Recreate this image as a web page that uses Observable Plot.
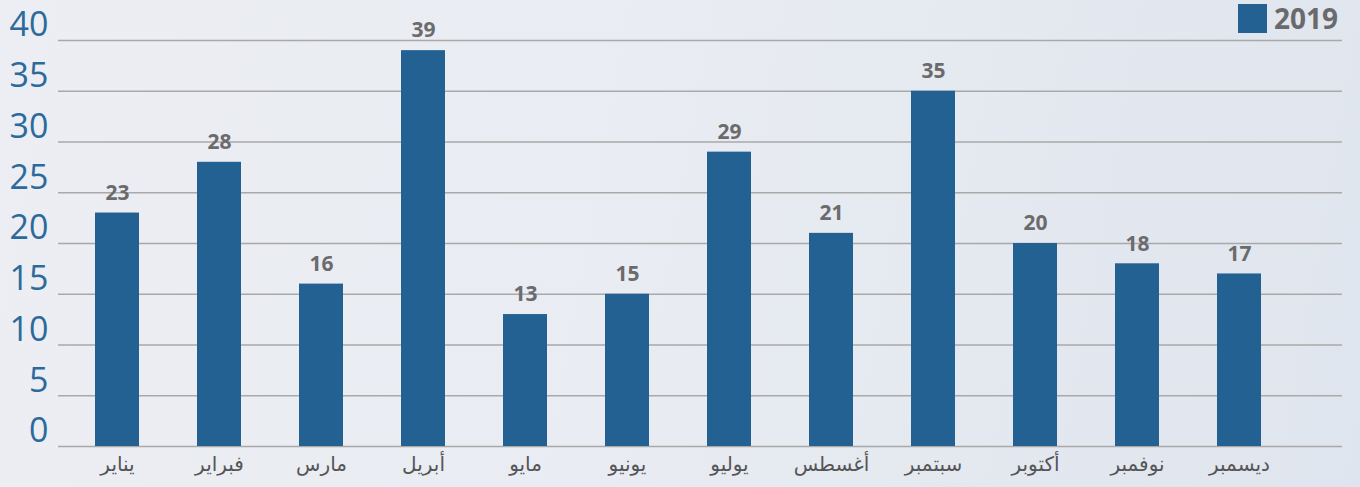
<!DOCTYPE html>
<html>
<head>
<meta charset="utf-8">
<script src="https://cdn.jsdelivr.net/npm/d3@7"></script>
<script src="https://cdn.jsdelivr.net/npm/@observablehq/plot@0.6"></script>
<style>
  html, body { margin: 0; padding: 0; }
  #wrap {
    position: relative; width: 1360px; height: 487px; overflow: hidden;
    background: linear-gradient(100deg, #eceef3 0%, #e9ecf2 45%, #dfe5ee 100%);
  }
  #legend {
    position: absolute; left: 1238px; top: 4px; display: flex; align-items: center;
    font-family: "Open Sans", "DejaVu Sans", sans-serif; font-weight: bold; font-size: 28px; color: #6a6a6c;
    line-height: 29px;
  }
  #legend .sw { width: 29px; height: 29px; background: #236192; margin-right: 7px; }
</style>
</head>
<body>
<div id="wrap">
  <div id="chart"></div>
  <div id="legend"><div class="sw"></div><span>2019</span></div>
</div>
<script>
const months = ["يناير","فبراير","مارس","أبريل","مايو","يونيو","يوليو","أغسطس","سبتمبر","أكتوبر","نوفمبر","ديسمبر"];
const values2019 = [23, 28, 16, 39, 13, 15, 29, 21, 35, 20, 18, 17];
const yTicks = [0, 5, 10, 15, 20, 25, 30, 35, 40];
const seriesName = "2019";

const data = months.map((m, i) => ({month: m, value: values2019[i]}));

const chart = Plot.plot({
  width: 1360,
  height: 487,
  marginLeft: 66,
  marginRight: 70,
  marginTop: 40,
  marginBottom: 41,
  style: {background: "transparent", overflow: "visible"},
  x: {domain: months, paddingInner: 0.569, paddingOuter: 0.2845, label: null},
  y: {domain: [0, 40], label: null},
  marks: [
    Plot.ruleY(yTicks, {stroke: "#a9a9a9", strokeWidth: 1.5, insetLeft: -8, insetRight: -52}),
    Plot.barY(data, {x: "month", y: "value", fill: "#236192"}),
    Plot.text(data, {x: "month", y: "value", text: d => String(d.value), dy: -20,
      fill: "#6b6b6d", fontWeight: "bold", fontSize: 21, fontFamily: "Open Sans, DejaVu Sans, sans-serif"}),
    Plot.axisY(yTicks, {tickSize: 0, tickPadding: 18, fontSize: 34, fill: "#2c6a9c", dy: -15,
      fontFamily: "Open Sans, DejaVu Sans, sans-serif", letterSpacing: -0.5, label: null}),
    Plot.axisX({tickSize: 0, tickPadding: 10, fontSize: 20, fill: "#555557",
      fontFamily: "DejaVu Sans, sans-serif", label: null})
  ]
});
document.getElementById("chart").appendChild(chart);
</script>
</body>
</html>
